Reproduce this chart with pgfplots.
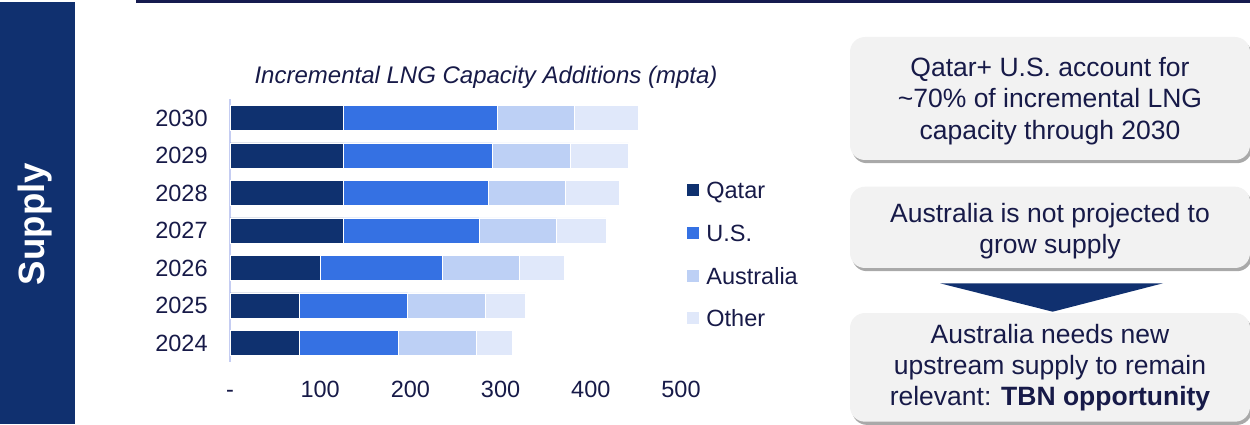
\documentclass[border=0pt]{standalone}
\usepackage{pgfplots}
\pgfplotsset{compat=1.18}
\usepackage{fontspec}
\setmainfont{Liberation Sans}
\usetikzlibrary{shadows}

\definecolor{navy}{HTML}{10306F}
\definecolor{qatarc}{HTML}{0F316F}
\definecolor{usc}{HTML}{3571E3}
\definecolor{ausc}{HTML}{BDD0F5}
\definecolor{otherc}{HTML}{E0E8FA}
\definecolor{inkc}{HTML}{171A48}
\definecolor{rulec}{HTML}{161B4F}
\definecolor{axisc}{HTML}{C5CDF2}
\definecolor{boxc}{HTML}{F2F2F2}

\newcommand{\chartfont}{\fontsize{11.75}{14}\selectfont}
\newcommand{\boxfont}{\fontsize{13.25}{15.7}\selectfont}

\begin{document}
\begin{tikzpicture}
\useasboundingbox (0,0) rectangle (625pt,212pt);

% side band and top rule
\fill[navy] (0,0) rectangle (37.5pt,211pt);
\node[rotate=90, text=white, font=\fontsize{18.3}{20}\selectfont\bfseries] at (17.75pt,100pt) {Supply};
\fill[rulec] (68pt,210.25pt) rectangle (625pt,212pt);

\begin{axis}[
  at={(115pt,31.15pt)}, anchor=south west,
  scale only axis, width=225.5pt, height=131.25pt,
  xbar stacked, bar width=12.5pt,
  xmin=0, xmax=500, ymin=-0.5, ymax=6.5,
  axis lines*=left,
  x axis line style={draw=none},
  y axis line style={draw=axisc, line width=0.75pt, -},
  major tick length=0pt,
  xtick={0,100,200,300,400,500},
  xticklabels={-,100,200,300,400,500},
  ytick={0,1,2,3,4,5,6},
  yticklabels={2024,2025,2026,2027,2028,2029,2030},
  ticklabel style={font=\chartfont, text=inkc, inner sep=0pt, text height=8.4pt, text depth=0pt},
  xticklabel style={anchor=north, yshift=-9.5pt},
  yticklabel style={anchor=east, xshift=-11pt},
  /pgf/number format/assume math mode=true,
  legend image code/.code={\path[#1, draw=none] (0pt,-3pt) rectangle (6pt,3pt); \path (9.5pt,0pt);},
  legend cell align=left,
  legend style={draw=none, fill=none, inner sep=0pt, outer sep=0pt,
    at={(axis description cs:1.0133,0.686)}, anchor=north west,
    row sep=12.75pt, font=\chartfont, text=inkc,
    nodes={inner sep=0pt, text height=8.6pt, text depth=0pt}},
  every axis plot/.append style={draw=white, line width=0.4pt},
  clip=false,
]
\addplot[fill=qatarc] coordinates {(77,0) (77,1) (100,2) (126,3) (126,4) (126,5) (126,6)};
\addplot[fill=usc] coordinates {(110,0) (120,1) (135,2) (150,3) (160,4) (165,5) (170,6)};
\addplot[fill=ausc] coordinates {(86,0) (86,1) (86,2) (86,3) (86,4) (86,5) (86,6)};
\addplot[fill=otherc] coordinates {(40,0) (45,1) (50,2) (55,3) (60,4) (65,5) (71,6)};
\legend{Qatar,U.S.,Australia,Other}
\end{axis}

\node[font=\fontsize{12}{14}\selectfont\itshape, text=inkc, anchor=base] at (243pt,170.35pt) {Incremental LNG Capacity Additions (mpta)};

% call-out boxes
\tikzset{callout/.style={fill=boxc, rounded corners=7.5pt,
  drop shadow={shadow xshift=1pt, shadow yshift=-1.6pt, opacity=0.45, fill=black!75}}}
\path[callout] (425pt,132pt) rectangle (625pt,193.5pt);
\path[callout] (425pt,78pt) rectangle (625pt,118.65pt);
\path[callout] (425pt,1.15pt) rectangle (625pt,55.5pt);
\fill[navy] (470pt,70.35pt) -- (581.5pt,70.35pt) -- (526.35pt,56.15pt) -- cycle;

\node[font=\boxfont, text=inkc, align=center] at (525pt,161.5pt)
  {Qatar+ U.S. account for\\\textasciitilde 70\% of incremental LNG\\capacity through 2030};
\node[font=\boxfont, text=inkc, align=center] at (525pt,96.5pt)
  {Australia is not projected to\\grow supply};
\node[font=\boxfont, text=inkc, align=center] at (525pt,28.2pt)
  {Australia needs new\\upstream supply to remain\\relevant: \textbf{TBN opportunity}};
\end{tikzpicture}
\end{document}
